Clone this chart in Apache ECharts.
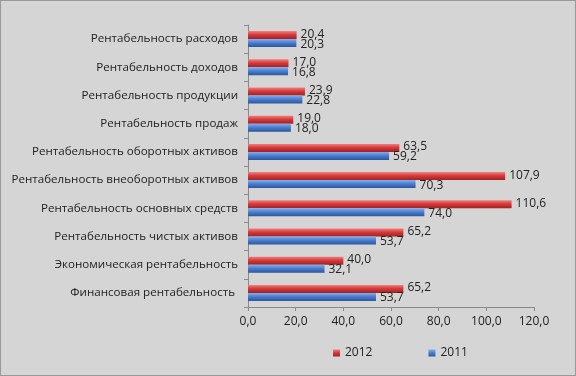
<!DOCTYPE html>
<html><head><meta charset="utf-8">
<script src="https://cdn.jsdelivr.net/npm/echarts@6/dist/echarts.min.js"></script>
<style>html,body{margin:0;padding:0;background:#d5d5d5}#c{width:574px;height:374px;border:1px solid #9a9a9a}</style>
</head><body><div id="c"></div>
<script>
const categories = ["Рентабельность расходов","Рентабельность доходов","Рентабельность продукции","Рентабельность продаж","Рентабельность оборотных активов","Рентабельность внеоборотных активов","Рентабельность основных средств","Рентабельность чистых активов","Экономическая рентабельность","Финансовая рентабельность "];
const values2012 = [20.4,17.0,23.9,19.0,63.5,107.9,110.6,65.2,40.0,65.2];
const values2011 = [20.3,16.8,22.8,18.0,59.2,70.3,74.0,53.7,32.1,53.7];
const xTicks = {min:0,max:120,interval:20};

const fmt = v => v.toFixed(1).replace('.', ',');
const grad = (a,b,c) => new echarts.graphic.LinearGradient(0,0,0,1,[{offset:0,color:a},{offset:0.45,color:b},{offset:1,color:c}]);
const chart = echarts.init(document.getElementById('c'));
chart.setOption({
  backgroundColor: '#d5d5d5',
  textStyle:{fontFamily:'Open Sans, DejaVu Sans, sans-serif'},
  grid:{left:247,right:41,top:24,bottom:68,containLabel:false},
  legend:{bottom:11,left:327,itemGap:56,itemWidth:7,itemHeight:7,icon:'rect',
    textStyle:{fontSize:12,color:'#222'},data:['2012','2011']},
  xAxis:{type:'value',min:xTicks.min,max:xTicks.max,interval:xTicks.interval,
    axisLine:{show:true,lineStyle:{color:'#8a8a8a'}},axisTick:{show:true,length:4,lineStyle:{color:'#8a8a8a'}},
    splitLine:{show:false},
    axisLabel:{fontSize:12,color:'#222',margin:9,formatter:v=>fmt(v)}},
  yAxis:{type:'category',inverse:true,data:categories,
    axisLine:{show:true,lineStyle:{color:'#8a8a8a'}},axisTick:{show:true,length:4,lineStyle:{color:'#8a8a8a'}},
    axisLabel:{fontSize:11.6,color:'#222',margin:10}},
  series:[
    {name:'2012',type:'bar',data:values2012,barWidth:8,barGap:'0%',
      itemStyle:{color:grad('#f08080','#d83a3a','#9e2222')},
      label:{show:true,position:'right',distance:4,offset:[0,-1],fontSize:12,color:'#222',formatter:p=>fmt(p.value)}},
    {name:'2011',type:'bar',data:values2011,barWidth:8,barGap:'0%',
      itemStyle:{color:grad('#86b0ee','#4a7fd2','#2c5698')},
      label:{show:true,position:'right',distance:4,offset:[0,1],fontSize:12,color:'#222',formatter:p=>fmt(p.value)}}
  ]
});
</script></body></html>
